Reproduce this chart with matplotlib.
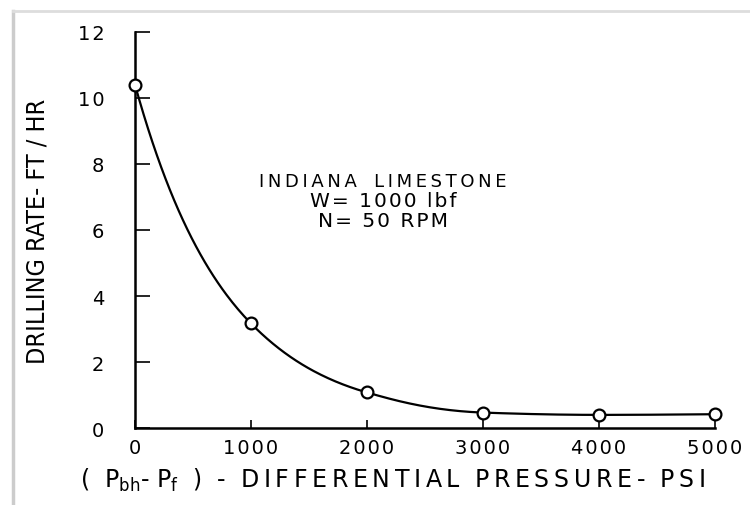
import numpy as np
import matplotlib
matplotlib.use("Agg")
import matplotlib.pyplot as plt
from matplotlib.lines import Line2D

# Data
pressure = [0, 1000, 2000, 3000, 4000, 5000]          # psi
drill_rate = [10.4, 3.17, 1.08, 0.47, 0.40, 0.42]      # ft/hr
x_ticks = [0, 1000, 2000, 3000, 4000, 5000]
x_tick_labels = ["0", "1000", "2000", "3000", "4000", "5000"]
y_ticks = [0, 2, 4, 6, 8, 10, 12]
y_tick_labels = ["0", "2", "4", "6", "8", "10", "12"]
note_lines = ["INDIANA LIMESTONE", "W= 1000 lbf", "N= 50 RPM"]

TS = "\u2009"
HS = "\u200a"


def spaced(s, sep=TS):
    return sep.join(s).replace(sep + " " + sep, "   ")


def pchip(x, y, xs):
    x = np.asarray(x, float); y = np.asarray(y, float)
    h = np.diff(x); d = np.diff(y) / h
    m = np.zeros_like(y)
    for k in range(1, len(x) - 1):
        if d[k - 1] * d[k] > 0:
            w1 = 2 * h[k] + h[k - 1]; w2 = h[k] + 2 * h[k - 1]
            m[k] = (w1 + w2) / (w1 / d[k - 1] + w2 / d[k])
    m[0] = d[0] * 1.5 - m[1] * 0.5
    m[-1] = d[-1] * 1.5 - m[-2] * 0.5
    if np.sign(m[0]) != np.sign(d[0]): m[0] = 0
    if np.sign(m[-1]) != np.sign(d[-1]): m[-1] = 0
    idx = np.clip(np.searchsorted(x, xs) - 1, 0, len(x) - 2)
    t = (xs - x[idx]) / h[idx]
    h00 = 2 * t**3 - 3 * t**2 + 1; h10 = t**3 - 2 * t**2 + t
    h01 = -2 * t**3 + 3 * t**2; h11 = t**3 - t**2
    return (h00 * y[idx] + h10 * h[idx] * m[idx] + h01 * y[idx + 1]
            + h11 * h[idx] * m[idx + 1])


fig = plt.figure(figsize=(7.5, 5.06), dpi=100)
ax = fig.add_axes([0.18, 0.152, 0.773, 0.783])

# smooth curve (interpolated in log space through the data points)
xs = np.linspace(pressure[0], pressure[-1], 400)
ys = np.exp(pchip(pressure, np.log(drill_rate), xs))
ax.plot(xs, ys, color="black", lw=1.6, zorder=2)
ax.plot(pressure, drill_rate, "o", ms=8.5, mfc="white", mec="black",
        mew=1.6, zorder=3, clip_on=False)

ax.set_xlim(0, 5000)
ax.set_ylim(0, 12)
for s in ["top", "right"]:
    ax.spines[s].set_visible(False)
for s in ["left", "bottom"]:
    ax.spines[s].set_linewidth(1.8)

ax.set_xticks(x_ticks)
ax.set_xticklabels([spaced(t, HS) for t in x_tick_labels])
ax.set_yticks(y_ticks)
ax.set_yticklabels([spaced(t, HS) for t in y_tick_labels])
ax.tick_params(axis="y", direction="in", length=11, width=1.2, pad=22,
               labelsize=14)
ax.tick_params(axis="x", direction="in", length=6, width=1.2, pad=7,
               labelsize=14)

ax.set_ylabel("DRILLING RATE- FT / HR", fontsize=18, fontstretch="condensed")
ax.yaxis.set_label_coords(-0.148, 0.5)
xl = (r"(  $\mathregular{P_{bh}}$- $\mathregular{P_f}$  )  -  "
      + spaced("DIFFERENTIAL") + "  " + spaced("PRESSURE-") + "  " + spaced("PSI"))
ax.set_xlabel(xl, fontsize=17)
ax.xaxis.set_label_coords(0.445, -0.095)

note_y = [7.49, 6.89, 6.28]
note_size = [13, 14.5, 14.5]
note_sep = [TS, HS, HS]
for line, yy, fs, sep in zip(note_lines, note_y, note_size, note_sep):
    txt = sep.join(line) if sep == HS else spaced(line, sep)
    ax.text(2140, yy, txt, ha="center", va="center", fontsize=fs)

# faint scan frame
fig.add_artist(Line2D([13 / 750, 13 / 750], [0, 1 - 12 / 506],
                      color="#cccccc", lw=2.5))
fig.add_artist(Line2D([13 / 750, 1], [1 - 12 / 506, 1 - 12 / 506],
                      color="#dddddd", lw=2))

fig.savefig("out.png", dpi=100)
